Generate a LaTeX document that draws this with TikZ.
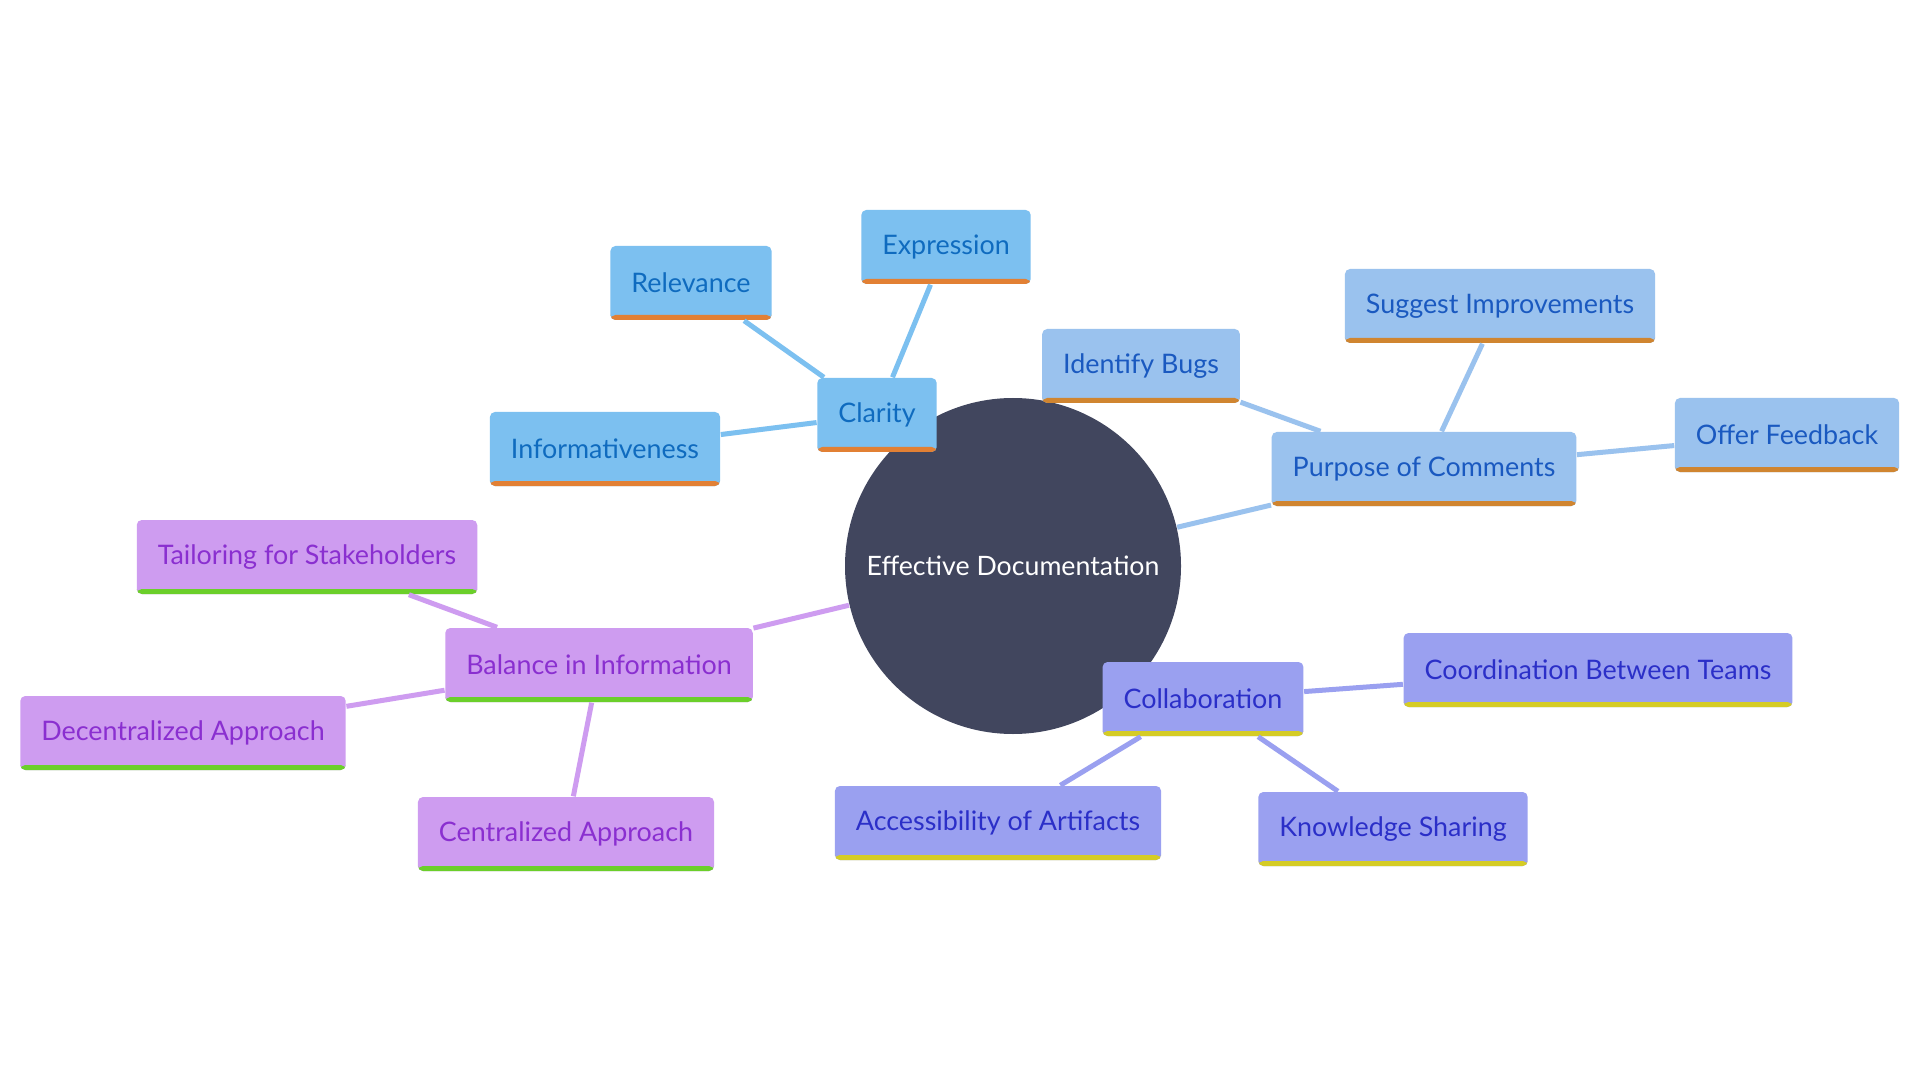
\documentclass[tikz,border=0pt]{standalone}
\usepackage{fontspec}
\setmainfont{Lato}
\usepackage{tikz}
\usepackage{xcolor}
\definecolor{rootgray}{HTML}{41465E}
\definecolor{clarfill}{HTML}{7CC0F0}
\definecolor{clartext}{HTML}{0F6BBF}
\definecolor{clarbar}{HTML}{E28034}
\definecolor{purpfill}{HTML}{9AC2EE}
\definecolor{purptext}{HTML}{1A59C0}
\definecolor{purpbar}{HTML}{D08530}
\definecolor{balfill}{HTML}{CE9CF0}
\definecolor{baltext}{HTML}{8A2FD0}
\definecolor{balbar}{HTML}{6BCF2A}
\definecolor{colfill}{HTML}{9AA0F0}
\definecolor{coltext}{HTML}{2B2FC8}
\definecolor{colbar}{HTML}{D5CC25}

\begin{document}
\begin{tikzpicture}[
  topic/.style={rounded corners=0.05cm, inner xsep=0.21cm, minimum height=0.74cm,
    font=\fontsize{7.65}{9}\selectfont,
    path picture={\fill[#1] (path picture bounding box.south west) rectangle
      ([yshift=0.05cm]path picture bounding box.south east);}},
  clar/.style={topic=clarbar, fill=clarfill, text=clartext},
  purp/.style={topic=purpbar, fill=purpfill, text=purptext},
  bal/.style={topic=balbar, fill=balfill, text=baltext},
  col/.style={topic=colbar, fill=colfill, text=coltext},
  link/.style={line width=0.05cm, draw=#1}
]
  \useasboundingbox[fill=white] (0,0) rectangle (19.2,-10.8);

  \node[circle, fill=rootgray, minimum size=3.36cm, text=white,
    font=\fontsize{7.6}{9}\selectfont] (root) at (10.13,-5.66) {Effective Documentation};

  \node[clar] (clarity) at (8.77,-4.15)  {Clarity};
  \node[clar] (relev)   at (6.91,-2.83)  {Relevance};
  \node[clar] (expr)    at (9.46,-2.47)  {Expression};
  \node[clar] (inform)  at (6.05,-4.49)  {Informativeness};

  \node[purp] (purpose)  at (14.24,-4.69) {Purpose of Comments};
  \node[purp] (bugs)     at (11.41,-3.66) {Identify Bugs};
  \node[purp] (suggest)  at (15.00,-3.06) {Suggest Improvements};
  \node[purp] (feedback) at (17.87,-4.35) {Offer Feedback};

  \node[bal] (balance) at (5.99,-6.65) {Balance in Information};
  \node[bal] (tailor)  at (3.07,-5.57) {Tailoring for Stakeholders};
  \node[bal] (decent)  at (1.83,-7.33) {Decentralized Approach};
  \node[bal] (cent)    at (5.66,-8.34) {Centralized Approach};

  \node[col] (collab) at (12.03,-6.99) {Collaboration};
  \node[col] (coord)  at (15.98,-6.70) {Coordination Between Teams};
  \node[col] (access) at (9.98,-8.23)  {Accessibility of Artifacts};
  \node[col] (knowl)  at (13.93,-8.29) {Knowledge Sharing};

  % branches
  \draw[link=clarfill] (clarity) -- (relev);
  \draw[link=clarfill] (clarity) -- (expr);
  \draw[link=clarfill] (clarity) -- (inform);
  \draw[link=purpfill] (root) -- (purpose);
  \draw[link=purpfill] (purpose) -- (bugs);
  \draw[link=purpfill] (purpose) -- (suggest);
  \draw[link=purpfill] (purpose) -- (feedback);
  \draw[link=balfill] (root) -- (balance);
  \draw[link=balfill] (balance) -- (tailor);
  \draw[link=balfill] (balance) -- (decent);
  \draw[link=balfill] (balance) -- (cent);
  \draw[link=colfill] (collab) -- (coord);
  \draw[link=colfill] (collab) -- (access);
  \draw[link=colfill] (collab) -- (knowl);
\end{tikzpicture}
\end{document}
